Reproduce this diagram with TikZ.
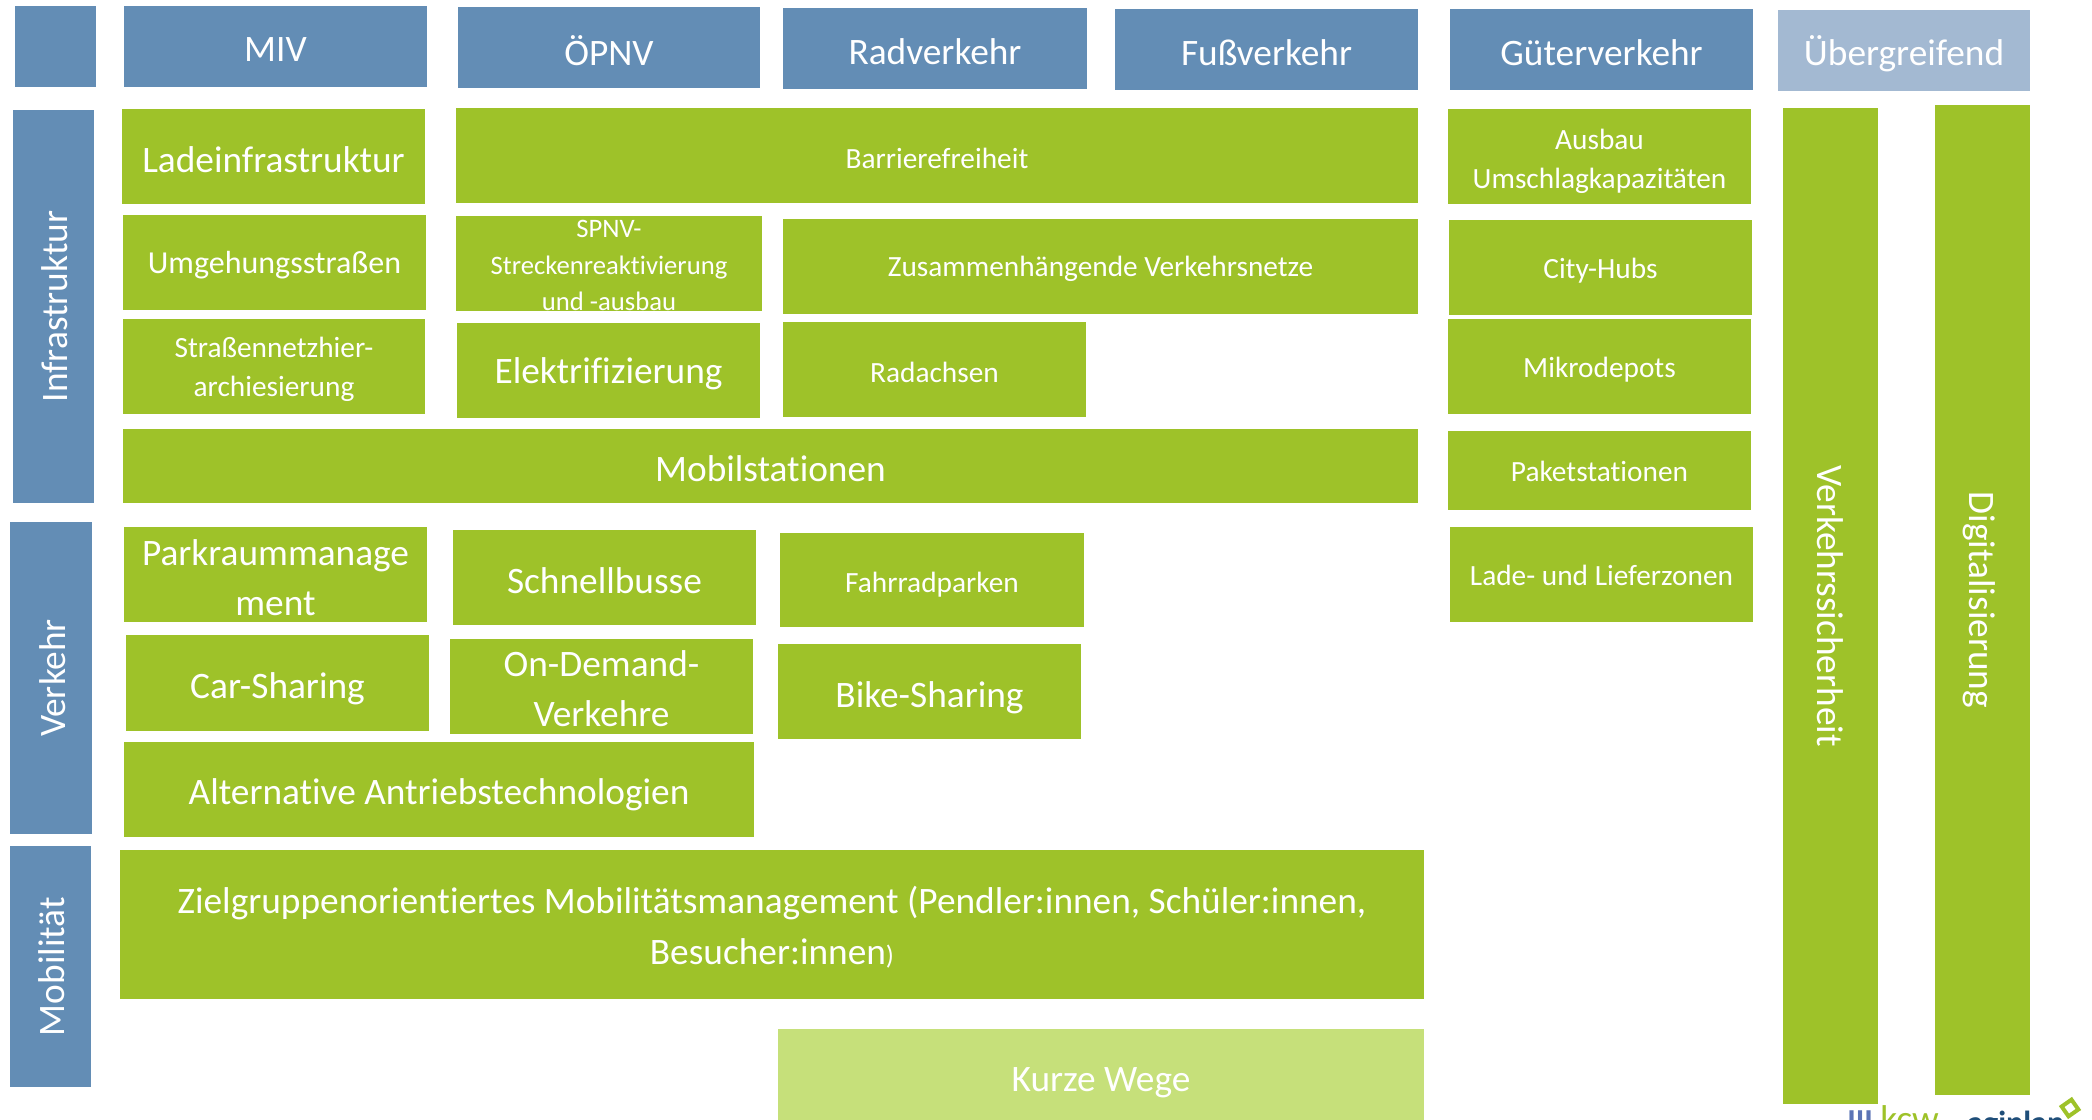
\documentclass[tikz,border=0pt]{standalone}
\usepackage{fontspec}
\setmainfont[Ligatures=NoCommon]{Carlito}
\definecolor{bl}{HTML}{638DB5}
\definecolor{lb}{HTML}{A3B9D2}
\definecolor{gr}{HTML}{9EC229}
\definecolor{lg}{HTML}{C6E07A}
\definecolor{kblue}{HTML}{5B74B5}
\definecolor{adark}{HTML}{1F4E79}
\newcommand{\fs}[2]{\fontsize{#1}{#2}\selectfont}
\def\dy{3}
\def\dx{1.5}
\newcommand{\bx}[7]{\node[#6, minimum width={(#4-#2)*0.75pt}, minimum height={(#5-#3)*0.75pt}] (#1) at ({(#2+#4)/2},{(#3+#5)/2}) {};
  \node[#6,fill=none] (#1t) at ({(#2+#4)/2},{(#3+#5)/2+\dy}) {#7};}
\newcommand{\sbx}[7]{\node[#6, minimum height={(#4-#2)*0.75pt}, minimum width={(#5-#3)*0.75pt}] (#1) at ({(#2+#4)/2},{(#3+#5)/2}) {};
  \node[#6,fill=none] (#1t) at ({(#2+#4)/2+\dx},{(#3+#5)/2}) {#7};}
\tikzset{
  x=0.75pt,y=-0.75pt,
  boxbase/.style={inner sep=0pt,outer sep=0pt,text=white,align=center},
  hd/.style={boxbase,fill=bl,font=\fs{28}{32}},
  hl/.style={boxbase,fill=lb,font=\fs{28}{32}},
  side/.style={boxbase,fill=bl,rotate=90,font=\fs{28}{32}},
  big/.style={boxbase,fill=gr,font=\fs{28}{37.5}},
  mid/.style={boxbase,fill=gr,font=\fs{24}{30}},
  small/.style={boxbase,fill=gr,font=\fs{22}{29.5}},
  vert/.style={boxbase,fill=gr,rotate=-90,font=\fs{28}{30}},
}
\begin{document}
\begin{tikzpicture}
\useasboundingbox (0,0) rectangle (2092,1120);
\clip (0,0) rectangle (2092,1120);
\bx{h0}{15}{6}{96}{87}{hd}{}
\bx{h1}{124}{6}{427}{87}{hd}{MIV}
\bx{h2}{458}{7}{760}{88}{hd}{ÖPNV}
\bx{h3}{783}{8}{1087}{89}{hd}{Radverkehr}
\bx{h4}{1115}{9}{1418}{90}{hd}{Fußverkehr}
\bx{h5}{1450}{9}{1753}{90}{hd}{Güterverkehr}
\bx{h6}{1778}{10}{2030}{91}{hl}{Übergreifend}
\sbx{s1}{13}{110}{94}{503}{side}{Infrastruktur}
\sbx{s2}{10}{522}{92}{834}{side}{Verkehr}
\sbx{s3}{10}{846}{91}{1087}{side}{Mobilität}
\bx{a1}{122}{109}{425}{204}{big}{Ladeinfrastruktur}
\bx{a2}{456}{108}{1418}{203}{small}{Barrierefreiheit}
\def\dy{5}
\bx{a3}{1448}{109}{1751}{204}{small}{Ausbau\\Umschlagkapazitäten}
\def\dy{3}
\bx{b1}{123}{215}{426}{310}{mid}{Umgehungsstraßen}
\def\dy{2}
\bx{b2}{456}{216}{762}{311}{boxbase,fill=gr,font=\fs{20}{27.5}}{SPNV-\\Streckenreaktivierung\\und -ausbau}
\bx{b3}{783}{219}{1418}{314}{boxbase,fill=gr,font=\fs{22}{30}}{Zusammenhängende Verkehrsnetze}
\def\dy{3}
\bx{b4}{1449}{220}{1752}{315}{small}{City-Hubs}
\bx{c1}{123}{319}{425}{414}{small}{Straßennetzhier-\\archiesierung}
\bx{c2}{457}{323}{760}{418}{big}{Elektrifizierung}
\bx{c3}{783}{322}{1086}{417}{small}{Radachsen}
\bx{c4}{1448}{319}{1751}{414}{small}{Mikrodepots}
\bx{d1}{123}{429}{1418}{503}{big}{Mobilstationen}
\def\dy{1}
\bx{d2}{1448}{431}{1751}{510}{small}{Paketstationen}
\bx{e4}{1450}{527}{1753}{622}{small}{Lade- und Lieferzonen}
\def\dy{3}
\bx{e1}{124}{527}{427}{622}{big}{Parkraummanage\\ment}
\bx{e2}{453}{530}{756}{625}{big}{Schnellbusse}
\def\dy{5}
\bx{e3}{780}{533}{1084}{627}{small}{Fahrradparken}
\def\dy{6}
\bx{f1}{126}{635}{429}{731}{big}{Car-Sharing}
\def\dy{2}
\bx{f2}{450}{639}{753}{734}{big}{On-Demand-\\Verkehre}
\def\dy{6}
\bx{f3}{778}{644}{1081}{739}{big}{Bike-Sharing}
\def\dy{5}
\bx{g1}{124}{742}{754}{837}{big}{Alternative Antriebstechnologien}
\def\dy{3}
\bx{m1}{120}{850}{1424}{999}{boxbase,fill=gr,font=\fs{28}{38}}{Zielgruppenorientiertes Mobilitätsmanagement (Pendler:innen, Schüler:innen,\\Besucher:innen{\fs{20}{38})}}
\def\dy{6}
\bx{m2}{778}{1029}{1424}{1125}{boxbase,fill=lg,font=\fs{28}{32}}{Kurze Wege}
\def\dx{0}
\sbx{v1}{1783}{108}{1878}{1104}{vert}{Verkehrssicherheit}
\def\dx{-3}
\sbx{v2}{1935}{105}{2030}{1095}{vert}{Digitalisierung}
\node[inner sep=0pt,anchor=base west,text=kblue,font=\bfseries\fs{24}{24}] (lg1) at (1847,1131) {III};
\node[inner sep=0pt,anchor=base west,text=gr,font=\fs{28}{28}] (lg2) at (1880,1131) {kcw};
\node[inner sep=0pt,anchor=base west,text=adark,font=\bfseries\fs{24}{24}] (lg3) at (1967,1133) {agiplan};
\node[draw=gr,line width=3pt,rotate=35,minimum size=9pt,inner sep=0pt] (lg4) at (2070,1108) {};
\end{tikzpicture}
\end{document}
